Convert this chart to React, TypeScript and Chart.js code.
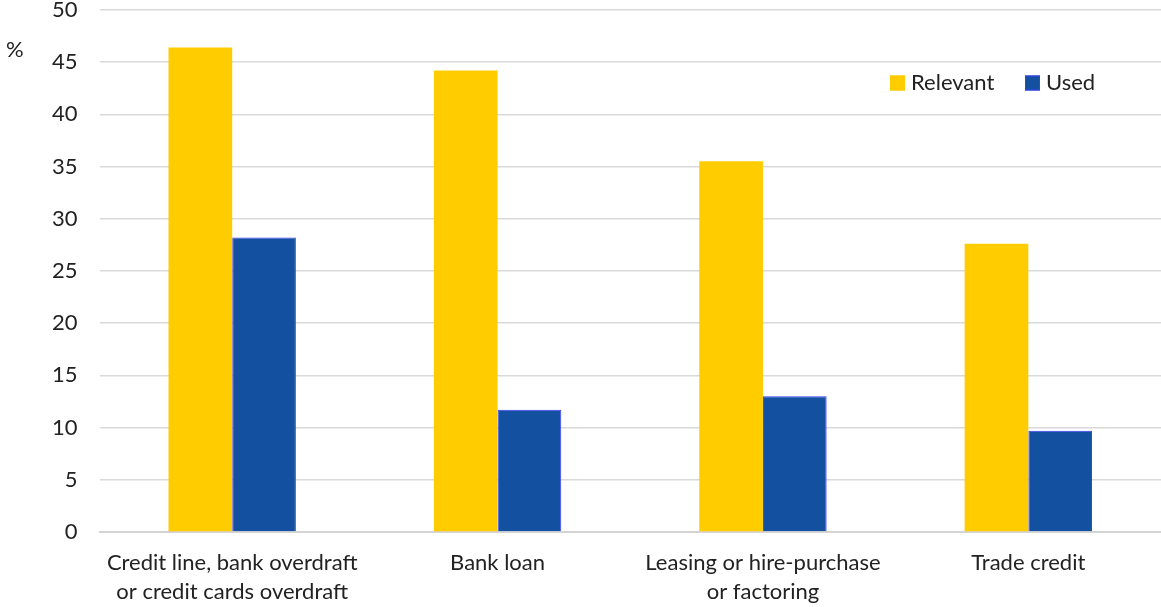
import React, { useEffect, useRef } from "react";
import { Chart, registerables } from "chart.js";

Chart.register(...registerables);

const categories: (string | string[])[] = [
  ["Credit line, bank overdraft", "or credit cards overdraft"],
  "Bank loan",
  ["Leasing or hire-purchase", "or factoring"],
  "Trade credit",
];
const relevantValues = [46.4, 44.2, 35.5, 27.6];
const usedValues = [28.2, 11.7, 13.0, 9.7];
const seriesNames = ["Relevant", "Used"];
const yTicks = [0, 5, 10, 15, 20, 25, 30, 35, 40, 45, 50];
const unitLabel = "%";

const FONT = "Lato, 'DejaVu Sans', sans-serif";
const FONT_SIZE = 22;
const TEXT_COLOR = "#222222";
const YELLOW = "#FFCC00";
const BLUE = "#1450A0";
const BLUE_BORDER = "#3A3AFF";

const overlayPlugin = {
  id: "overlay",
  afterDraw(chart: any) {
    const ctx = chart.ctx;
    ctx.save();
    ctx.font = `${FONT_SIZE}px ${FONT}`;
    ctx.fillStyle = TEXT_COLOR;
    ctx.textBaseline = "middle";
    ctx.textAlign = "left";
    ctx.fillText(unitLabel, 6, 50);

    // legend
    const items = [
      { label: seriesNames[0], fill: YELLOW, border: YELLOW, x: 890 },
      { label: seriesNames[1], fill: BLUE, border: BLUE_BORDER, x: 1025 },
    ];
    const y = 83;
    items.forEach((it) => {
      ctx.fillStyle = it.fill;
      ctx.fillRect(it.x, y - 7.5, 15, 15);
      ctx.strokeStyle = it.border;
      ctx.lineWidth = 1;
      ctx.strokeRect(it.x + 0.5, y - 7, 14, 14);
      ctx.fillStyle = TEXT_COLOR;
      ctx.fillText(it.label, it.x + 21, y);
    });
    ctx.restore();
  },
};

export default function App() {
  const canvasRef = useRef<HTMLCanvasElement | null>(null);

  useEffect(() => {
    document.body.style.margin = "0";
    const canvas = canvasRef.current;
    if (!canvas) return;
    const chart = new Chart(canvas, {
      type: "bar",
      data: {
        labels: categories as any,
        datasets: [
          {
            label: seriesNames[0],
            data: relevantValues,
            backgroundColor: YELLOW,
            borderColor: YELLOW,
            borderWidth: 0,
            categoryPercentage: 0.48,
            barPercentage: 1.0,
          },
          {
            label: seriesNames[1],
            data: usedValues,
            backgroundColor: BLUE,
            borderColor: BLUE_BORDER,
            borderWidth: 1,
            categoryPercentage: 0.48,
            barPercentage: 1.0,
          },
        ],
      },
      options: {
        animation: false,
        responsive: false,
        maintainAspectRatio: false,
        layout: { padding: { left: 30, right: 0, top: 0, bottom: 0 } },
        plugins: {
          legend: { display: false },
          tooltip: { enabled: false },
        },
        scales: {
          x: {
            afterFit: (axis: any) => {
              axis.height = axis.height - 15;
            },
            grid: { display: false, drawTicks: false },
            border: { display: true, color: "#d4d4d4", width: 2 },
            ticks: {
              color: TEXT_COLOR,
              font: { family: FONT, size: FONT_SIZE, lineHeight: 1.32 },
              padding: 16,
              maxRotation: 0,
              autoSkip: false,
            },
          },
          y: {
            min: 0,
            max: 50,
            afterBuildTicks: (axis: any) => {
              axis.ticks = yTicks.map((v) => ({ value: v }));
            },
            afterFit: (axis: any) => {
              axis.paddingTop = 10;
            },
            grid: {
              color: "#d9d9d9",
              lineWidth: 1.5,
              drawTicks: false,
            },
            border: { display: false },
            ticks: {
              color: TEXT_COLOR,
              font: { family: FONT, size: FONT_SIZE },
              padding: 22,
            },
          },
        },
      },
      plugins: [overlayPlugin],
    });
    return () => chart.destroy();
  }, []);

  return (
    <div style={{ width: 1161, height: 607 }}>
      <canvas ref={canvasRef} width={1161} height={607} style={{ display: "block" }} />
    </div>
  );
}
